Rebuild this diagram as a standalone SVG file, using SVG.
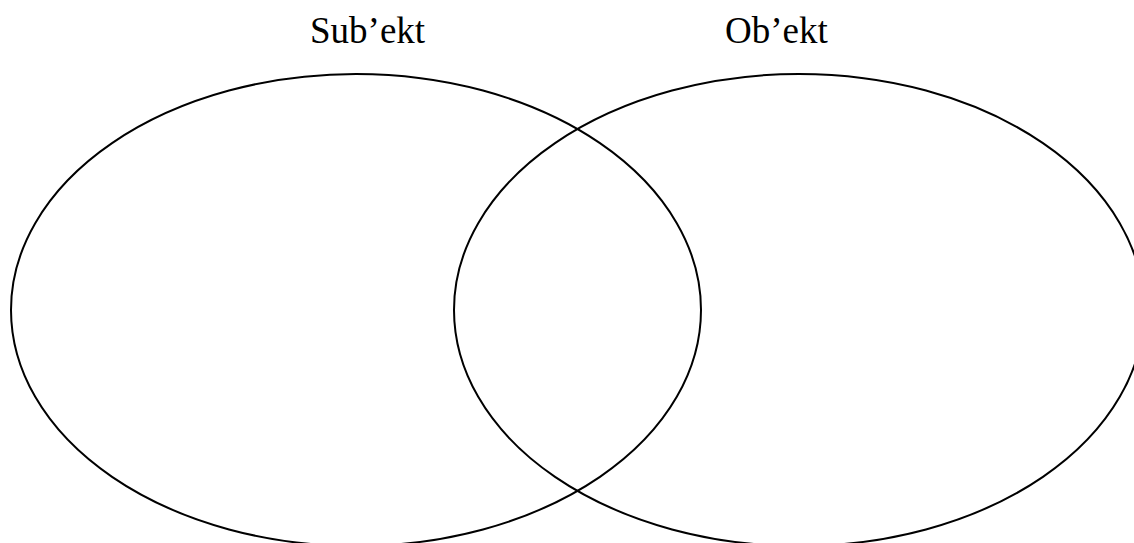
<svg xmlns="http://www.w3.org/2000/svg" width="1134" height="543" viewBox="0 0 1134 543">
<style>
.set{fill:none;stroke:#000;stroke-width:2}
.lbl{font-family:"Liberation Serif","Times New Roman",serif;font-size:37px;fill:#000}
</style>
<rect width="1134" height="543" fill="#fff"/>
<g id="subekt">
<ellipse class="set" cx="356" cy="310" rx="345" ry="236"/>
<text class="lbl" x="310" y="43">Sub’ekt</text>
</g>
<g id="obekt">
<ellipse class="set" cx="799" cy="310" rx="345" ry="236"/>
<text class="lbl" x="725" y="43">Ob’ekt</text>
</g>
<g id="connectors"></g>
</svg>
